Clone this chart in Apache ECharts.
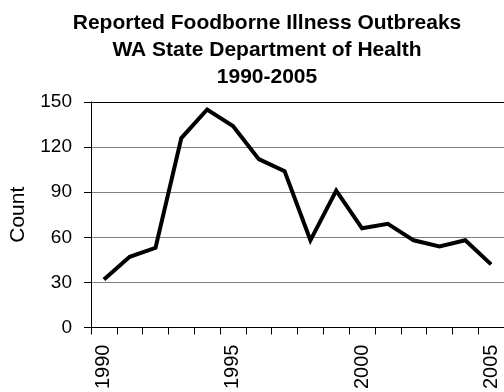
<!DOCTYPE html>
<html>
<head>
<meta charset="utf-8">
<script src="https://cdn.jsdelivr.net/npm/echarts@6/dist/echarts.min.js"></script>
<style>html,body{margin:0;padding:0;background:#fff}#c{width:504px;height:392px}</style>
</head>
<body>
<div id="c"></div>
<script>
var years = ['1990','1991','1992','1993','1994','1995','1996','1997','1998','1999','2000','2001','2002','2003','2004','2005'];
var outbreaks = [32, 47, 53, 126, 145, 134, 112, 104, 58, 91, 66, 69, 58, 54, 58, 42];
var yTicks = [0, 30, 60, 90, 120, 150];
var titleLines = ['Reported Foodborne Illness Outbreaks', 'WA State Department of Health', '1990-2005'];

var chart = echarts.init(document.getElementById('c'), null, {renderer: 'canvas'});
var font = '"Liberation Sans", Arial, sans-serif';
chart.setOption({
  animation: false,
  backgroundColor: '#fff',
  title: {
    text: titleLines.join('\n'),
    left: 262, textAlign: 'center', top: 5,
    textStyle: {fontFamily: font, fontWeight: 'bold', fontSize: 21, lineHeight: 26.7, color: '#000'}
  },
  grid: {left: 88, right: -2, top: 102, bottom: 61, containLabel: false},
  xAxis: {
    type: 'category', data: years, boundaryGap: true,
    axisLine: {lineStyle: {color: '#000', width: 1}},
    axisTick: {show: true, interval: 0, length: 7, lineStyle: {color: '#000'}},
    axisLabel: {interval: 4, rotate: 90, margin: 17, fontFamily: font, fontSize: 20, color: '#000'},
    splitLine: {show: false}
  },
  yAxis: {
    type: 'value', min: yTicks[0], max: yTicks[yTicks.length - 1], interval: 30,
    name: 'Count', nameLocation: 'middle', nameGap: 62, nameRotate: 90,
    nameTextStyle: {fontFamily: font, fontSize: 21, color: '#000'},
    axisLine: {show: true, lineStyle: {color: '#000', width: 1}},
    axisTick: {show: true, length: 7, lineStyle: {color: '#000'}},
    axisLabel: {margin: 19, fontFamily: font, fontSize: 19, color: '#000'},
    splitLine: {show: true, lineStyle: {color: ['#808080','#808080','#808080','#808080','#808080','#000'], width: 1}}
  },
  series: [{
    type: 'line', data: outbreaks, symbol: 'none',
    lineStyle: {color: '#000', width: 4, join: 'miter'}
  }]
});
</script>
</body>
</html>
